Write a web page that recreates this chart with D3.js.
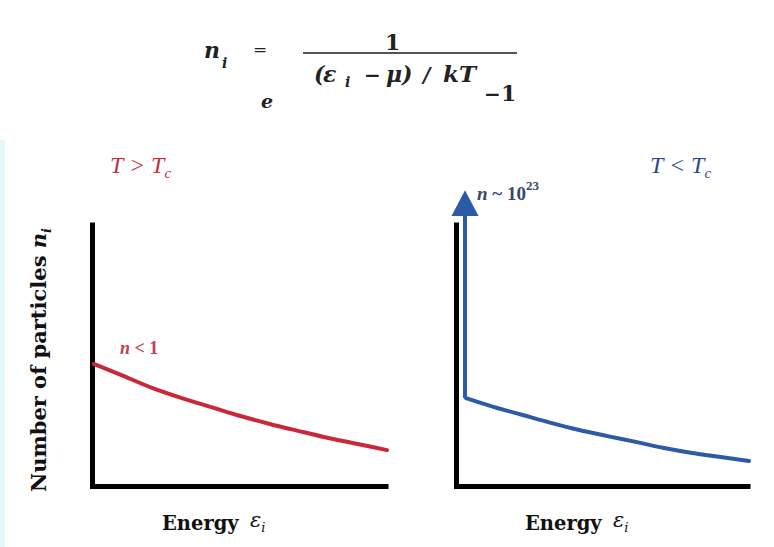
<!DOCTYPE html>
<html>
<head>
<meta charset="utf-8">
<script src="https://cdn.jsdelivr.net/npm/d3@7"></script>
<style>
  body { margin: 0; background: #fff; }
  text { font-family: "Liberation Serif", "DejaVu Serif", serif; }
  .wide { font-family: "DejaVu Serif", "Liberation Serif", serif; }
</style>
</head>
<body>
<div id="chart"></div>
<script>
var svgWidth = 774;
var svgHeight = 547;

// energy levels (arbitrary units, 0..1) and occupation numbers
var energy = [0, 0.1, 0.2, 0.3, 0.4, 0.5, 0.6, 0.7, 0.8, 0.9, 1.0];
var nAbove = [0.462, 0.417, 0.371, 0.333, 0.299, 0.265, 0.235, 0.208, 0.182, 0.159, 0.136];
var nBelow = [0.333, 0.299, 0.269, 0.239, 0.212, 0.189, 0.167, 0.144, 0.125, 0.110, 0.095];
// ground state spike for T < Tc (off the top of the axis)
var groundBase = 1.023;
var groundTip = 1.12;

var panelTitles = ["T > T", "T < T"];

var red = "#c9283b";
var blue = "#2d5aa6";

var svg = d3.select("#chart")
  .append("svg")
  .attr("width", svgWidth)
  .attr("height", svgHeight);

// light strip at the left edge
svg.append("rect")
  .attr("x", 0).attr("y", 140)
  .attr("width", 5).attr("height", svgHeight - 140)
  .attr("fill", "#e4f7fb");

// ---- formula ----
var f = svg.append("g").attr("font-weight", "bold").attr("fill", "#222");

function piece(x, y, s, size, italic, weight) {
  f.append("text").attr("class", "wide")
    .attr("x", x).attr("y", y)
    .attr("font-size", size)
    .attr("font-style", italic ? "italic" : "normal")
    .attr("font-weight", weight || "bold")
    .text(s);
}

piece(204, 58, "n", 22, true);
piece(222, 68, "i", 14, true);
piece(253, 55, "=", 17, false, "normal");
piece(385, 50, "1", 22, false);

f.append("line")
  .attr("x1", 303).attr("x2", 517)
  .attr("y1", 53).attr("y2", 53)
  .attr("stroke", "#555").attr("stroke-width", 2);

piece(261, 108, "e", 19, true);
// exponent pieces spaced as in the picture
piece(314, 82, "(", 22, true);
piece(323, 82, "ε", 22, true);
piece(345, 87, "i", 14, true);
piece(364, 82, "−", 20, false);
piece(386, 82, "μ)", 22, true);
piece(423, 82, "/", 20, true);
piece(443, 82, "kT", 23, true);
piece(484, 101, "−", 20, false);
piece(501, 101, "1", 22, false);

// ---- panels ----
var y = d3.scaleLinear().domain([0, 1]).range([486, 222]);

var panels = [
  { axisX: 92, start: 94, end: 387, values: nAbove, color: red, titleX: 110, titleColor: "#c8303f", energyX: 162 },
  { axisX: 456, start: 466, end: 749, values: nBelow, color: blue, titleX: 650, titleColor: "#2b4a8c", energyX: 525 }
];

panels.forEach(function(p, i) {
  var g = svg.append("g");

  var x = d3.scaleLinear().domain([0, 1]).range([p.start, p.end]);
  var xAxisScale = d3.scaleLinear().domain([0, 1]).range([p.axisX - 2.5, p.end + 1]);

  var leftAxis = d3.axisLeft(y).ticks(0).tickSizeOuter(0);
  var bottomAxis = d3.axisBottom(xAxisScale).ticks(0).tickSizeOuter(0);

  g.append("g")
    .attr("transform", `translate(${p.axisX}, 0)`)
    .call(leftAxis)
    .select(".domain").attr("stroke", "#000").attr("stroke-width", 5);

  g.append("g")
    .attr("transform", `translate(0, ${y(0)})`)
    .call(bottomAxis)
    .select(".domain").attr("stroke", "#000").attr("stroke-width", 5);

  var line = d3.line()
    .x(function(d, j) { return x(energy[j]); })
    .y(function(d) { return y(d); })
    .curve(d3.curveMonotoneX);

  g.append("path")
    .datum(p.values)
    .attr("d", line)
    .attr("fill", "none")
    .attr("stroke", p.color)
    .attr("stroke-width", 4)
    .attr("stroke-linecap", "round");

  // title
  var t = g.append("text")
    .attr("x", p.titleX).attr("y", 173)
    .attr("font-size", 24).attr("font-style", "italic")
    .attr("fill", p.titleColor)
    .text(panelTitles[i]);
  t.append("tspan").attr("dy", 5).attr("font-size", 15).text("c");

  // energy label
  g.append("text")
    .attr("class", "wide")
    .attr("x", p.energyX).attr("y", 530)
    .attr("font-size", 19.5).attr("font-weight", "bold").attr("fill", "#111")
    .text("Energy");
  var e = g.append("text")
    .attr("class", "wide")
    .attr("x", p.energyX + 88).attr("y", 527)
    .attr("font-size", 21).attr("font-style", "italic").attr("fill", "#111")
    .text("ε");
  e.append("tspan").attr("dy", 5).attr("font-size", 13).text("i");
});

// ground state arrow in the T < Tc panel
var xr = d3.scaleLinear().domain([0, 1]).range([panels[1].start, panels[1].end]);
var gx = xr(energy[0]) - 1;

svg.append("line")
  .attr("x1", gx).attr("x2", gx)
  .attr("y1", y(nBelow[0])).attr("y2", y(groundBase))
  .attr("stroke", blue).attr("stroke-width", 4);

svg.append("path")
  .attr("d", `M${gx - 13.5},${y(groundBase)} L${gx + 13.5},${y(groundBase)} L${gx},${y(groundTip)} Z`)
  .attr("fill", blue);

// annotations
var a1 = svg.append("text")
  .attr("x", 120).attr("y", 354)
  .attr("font-size", 18).attr("font-weight", "bold").attr("fill", "#c0404f");
a1.append("tspan").attr("font-style", "italic").text("n");
a1.append("tspan").text(" < 1");

var a2 = svg.append("text")
  .attr("x", 477).attr("y", 200)
  .attr("font-size", 19).attr("font-weight", "bold").attr("fill", "#3a4670");
a2.append("tspan").attr("font-style", "italic").text("n");
a2.append("tspan").text(" ~ 10");
a2.append("tspan").attr("dy", -10).attr("font-size", 13).text("23");

// y axis label
var yl = svg.append("text")
  .attr("class", "wide")
  .attr("transform", "translate(46, 360) rotate(-90)")
  .attr("text-anchor", "middle")
  .attr("font-size", 21).attr("font-weight", "bold").attr("fill", "#111")
  .text("Number of particles ");
yl.append("tspan").attr("font-style", "italic").text("n");
yl.append("tspan").attr("dy", 5).attr("font-size", 13).attr("font-style", "italic").text("i");
</script>
</body>
</html>
